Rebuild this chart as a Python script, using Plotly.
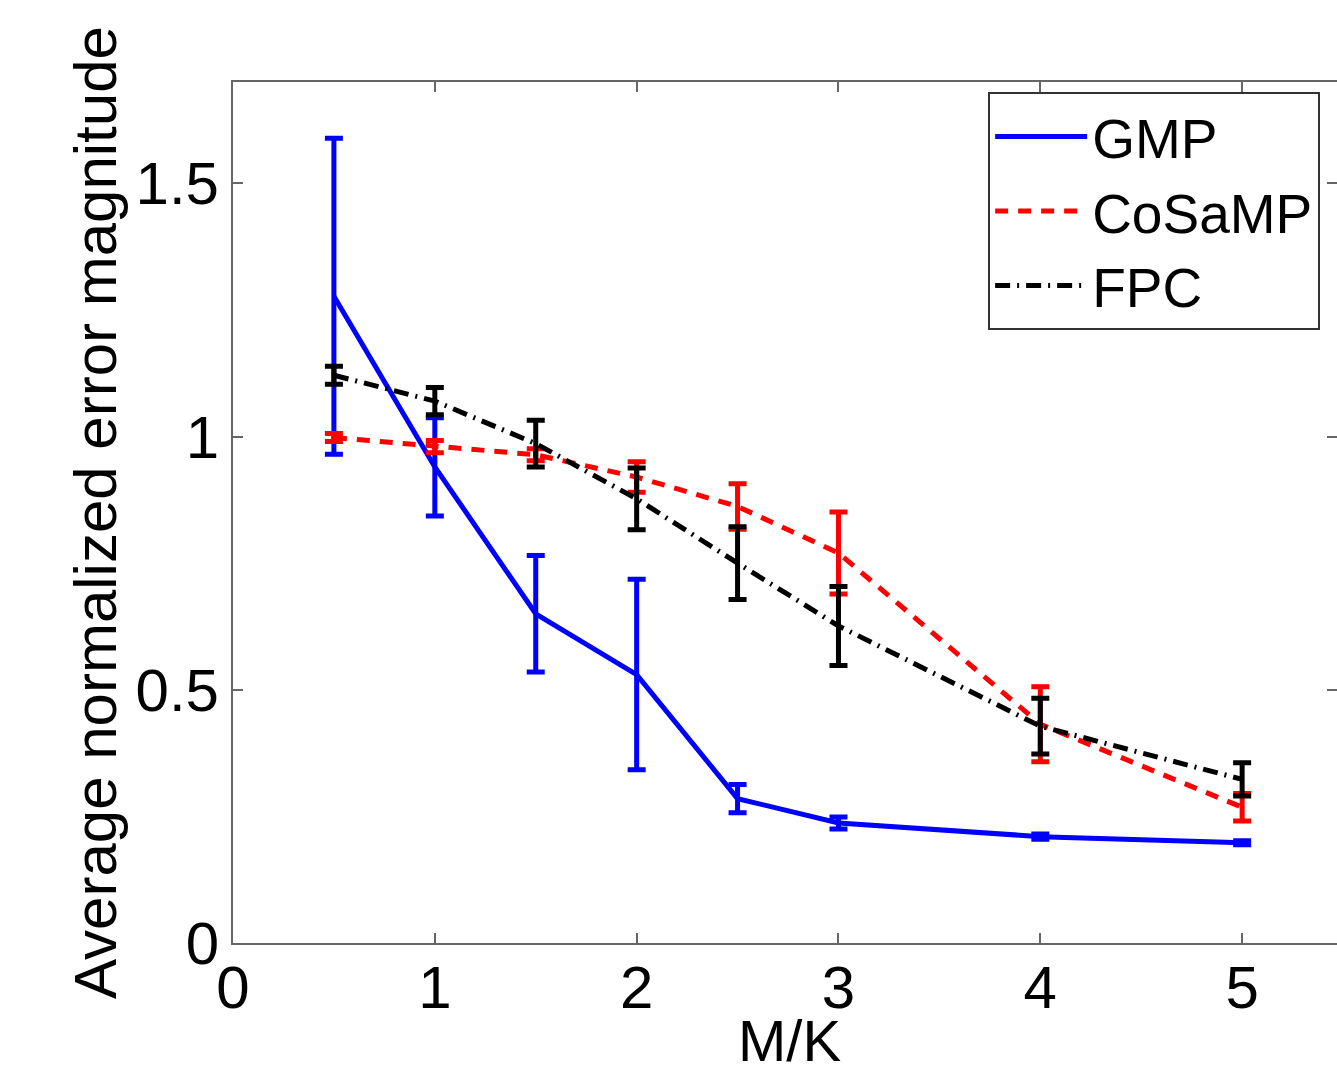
import plotly.graph_objects as go

x_vals = [0.5, 1, 1.5, 2, 2.5, 3, 4, 5]

gmp_mean = [1.277, 0.94, 0.650, 0.530, 0.285, 0.237, 0.210, 0.198]
gmp_err = [0.312, 0.097, 0.115, 0.188, 0.028, 0.012, 0.005, 0.004]

cosamp_mean = [0.998, 0.980, 0.964, 0.920, 0.862, 0.770, 0.432, 0.268]
cosamp_err = [0.008, 0.012, 0.012, 0.030, 0.045, 0.081, 0.074, 0.027]

fpc_mean = [1.121, 1.070, 0.986, 0.877, 0.750, 0.626, 0.428, 0.323]
fpc_err = [0.018, 0.027, 0.046, 0.061, 0.072, 0.078, 0.055, 0.033]

x_ticks = [0, 1, 2, 3, 4, 5]
x_tick_labels = ["0", "1", "2", "3", "4", "5"]
y_ticks = [0, 0.5, 1, 1.5]
y_tick_labels = ["0", "0.5", "1", "1.5"]

FONT = "Liberation Sans, Arial, Helvetica, sans-serif"

fig = go.Figure()

fig.add_trace(go.Scatter(
    x=x_vals, y=gmp_mean, name="GMP", mode="lines",
    line=dict(color="#0000ff", width=5),
    error_y=dict(type="data", array=gmp_err, visible=True,
                 color="#0000ff", thickness=5, width=9),
))
fig.add_trace(go.Scatter(
    x=x_vals, y=cosamp_mean, name="CoSaMP", mode="lines",
    line=dict(color="#ff0000", width=5, dash="13px,10px"),
    error_y=dict(type="data", array=cosamp_err, visible=True,
                 color="#ff0000", thickness=5, width=9),
))
fig.add_trace(go.Scatter(
    x=x_vals, y=fpc_mean, name="FPC", mode="lines",
    line=dict(color="#000000", width=5, dash="15px,7px,2px,7px"),
    error_y=dict(type="data", array=fpc_err, visible=True,
                 color="#000000", thickness=5, width=9),
))

fig.update_layout(
    width=1337, height=1072,
    margin=dict(l=233, r=0, t=82, b=129, autoexpand=False),
    paper_bgcolor="white", plot_bgcolor="white",
    font=dict(family=FONT, color="black", size=60),
    showlegend=True,
    legend=dict(
        x=0.684, y=0.988, xanchor="left", yanchor="top",
        bgcolor="white", bordercolor="#333333", borderwidth=2,
        font=dict(family=FONT, size=55, color="black"),
        itemwidth=92, tracegroupgap=0,
    ),
    xaxis=dict(
        range=[0, 5.47], tickvals=x_ticks, ticktext=x_tick_labels,
        ticks="inside", ticklen=10, tickwidth=2, tickcolor="#666666",
        showline=True, linecolor="#666666", linewidth=2, mirror="ticks",
        showgrid=False, zeroline=False, automargin=False,
        ticklabelstandoff=-9,
        tickfont=dict(family=FONT, size=60, color="black"),
    ),
    yaxis=dict(
        range=[0, 1.70], tickvals=y_ticks, ticktext=y_tick_labels,
        ticks="inside", ticklen=10, tickwidth=2, tickcolor="#666666",
        showline=True, linecolor="#666666", linewidth=2, mirror="ticks",
        showgrid=False, zeroline=False, automargin=False,
        tickfont=dict(family=FONT, size=60, color="black"),
        title=dict(text="Average normalized error magnitude",
                   font=dict(family=FONT, size=60, color="black"), standoff=0),
    ),
    annotations=[dict(
        text="M/K", xref="paper", yref="paper",
        x=0.5045, y=-0.1127, xanchor="center", yanchor="middle",
        showarrow=False, font=dict(family=FONT, size=58, color="black"),
    )],
)

fig.write_html(
    "out.html",
    config={"displayModeBar": False},
    post_script="document.body.style.margin='0';document.body.style.overflow='hidden';",
)
